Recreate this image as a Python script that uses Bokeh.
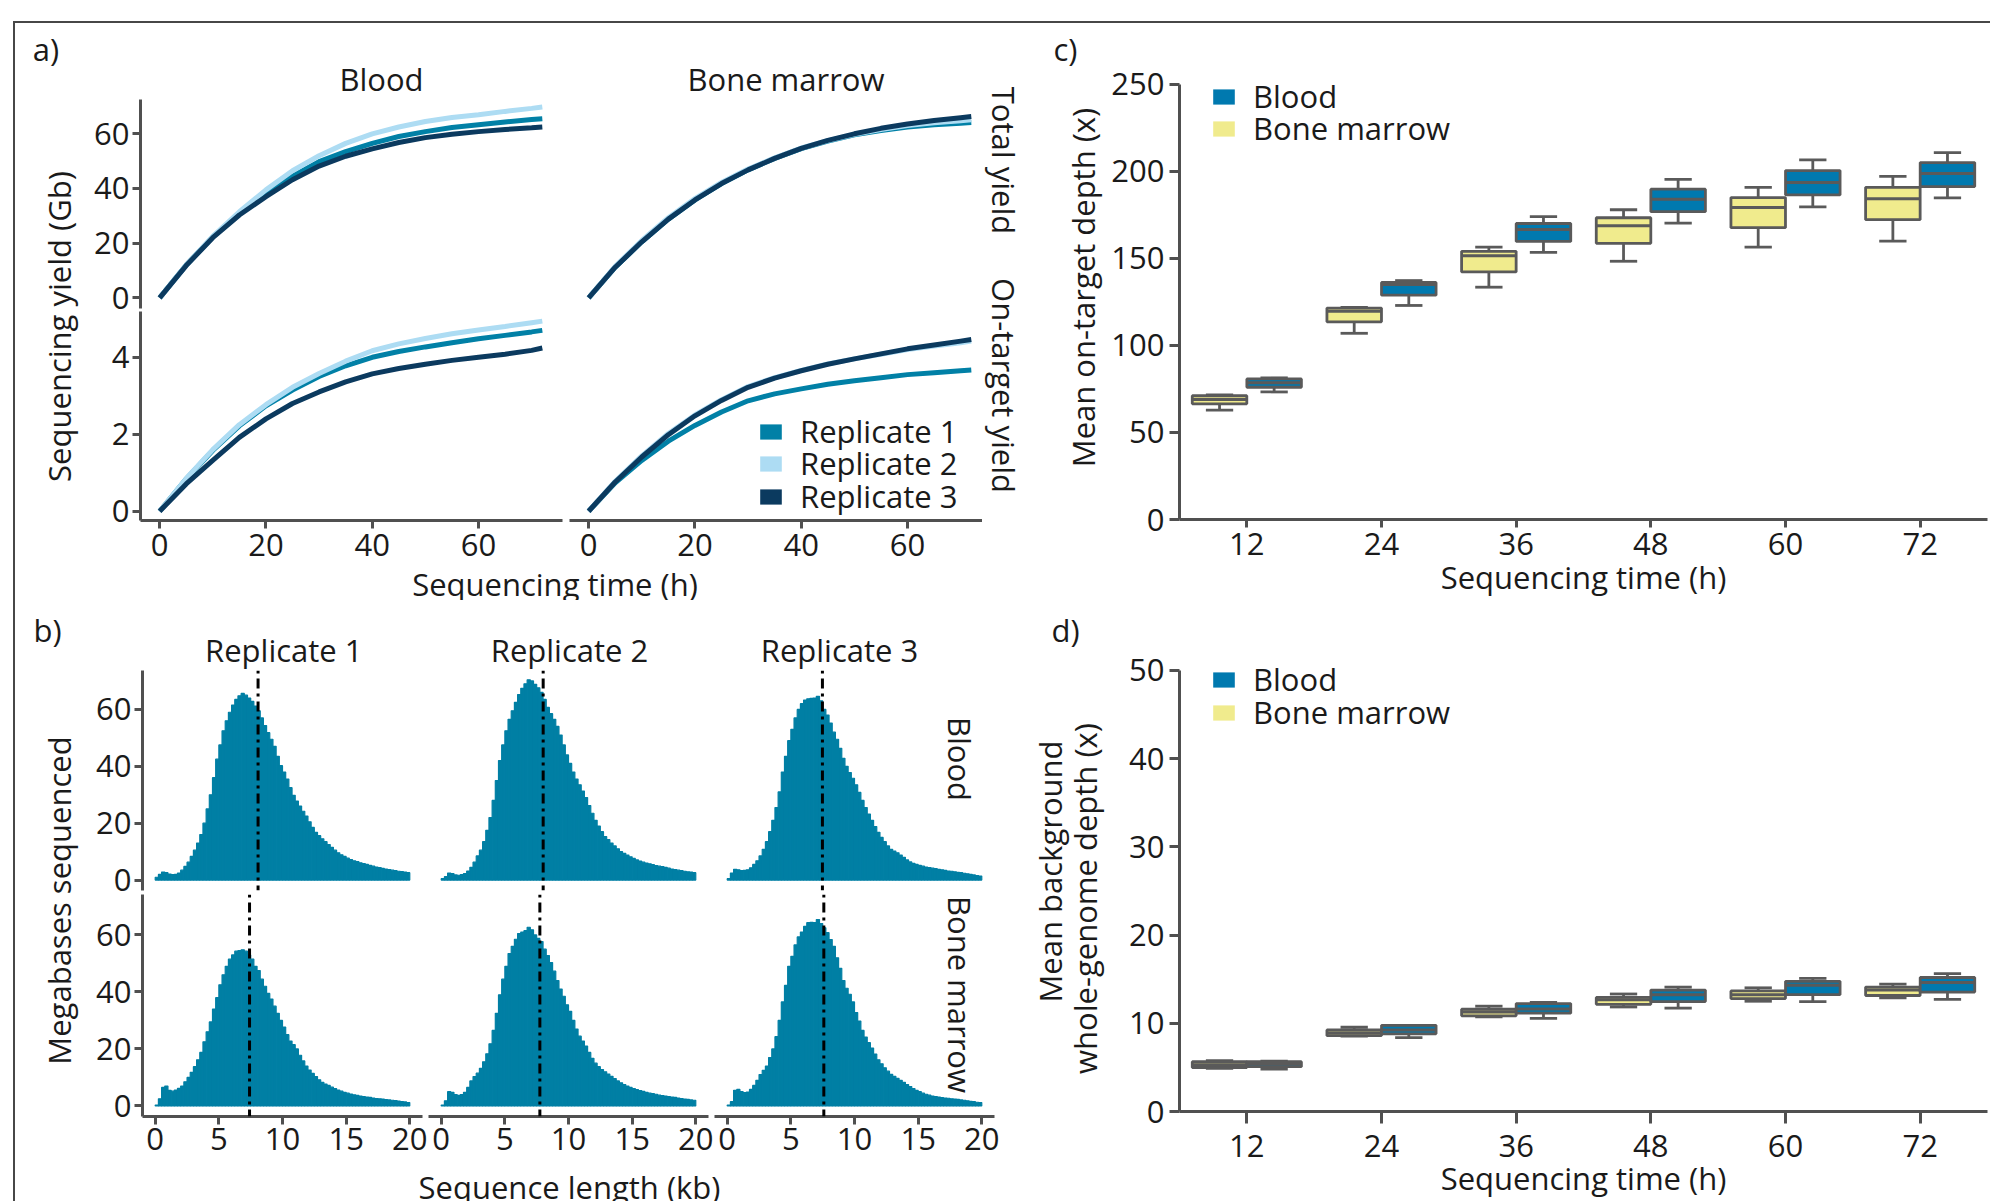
import math
from bokeh.plotting import figure
from bokeh.layouts import row, column
from bokeh.models import (Range1d, FactorRange, FixedTicker, Label, Span, Legend,
                          LegendItem, ColumnDataSource)
from bokeh.transform import dodge
from bokeh.embed import file_html
from bokeh.resources import INLINE

# ---------------------------------------------------------------- data
# a) cumulative yield vs sequencing time (h)
times_h = [0, 5, 10, 15, 20, 25, 30, 35, 40, 45, 50, 55, 60, 65, 70, 72]
blood_total_r1 = [0, 12, 22.3, 30.8, 38, 44.5, 49.8, 53.5, 56.5, 59, 60.8, 62.3, 63.3, 64.3, 65.2, 65.5]
blood_total_r2 = [0, 12, 22.5, 31.5, 39.5, 46.5, 52, 56.5, 60, 62.5, 64.5, 66, 67, 68.2, 69.3, 69.8]
blood_total_r3 = [0, 11.8, 22, 30.3, 37, 43.2, 48.2, 51.8, 54.5, 56.8, 58.6, 59.8, 60.8, 61.6, 62.2, 62.5]
bm_total_r1 = [0, 11.2, 20.5, 28.8, 35.8, 41.8, 46.8, 51, 54.6, 57.3, 59.6, 61.2, 62.5, 63.3, 63.9, 64.1]
bm_total_r2 = [0, 11.5, 21, 29.3, 36.3, 42.2, 47.1, 51.2, 54.8, 57.5, 59.8, 61.6, 63, 64, 64.8, 65.1]
bm_total_r3 = [0, 11.2, 20.5, 28.8, 35.8, 41.8, 46.8, 51, 54.7, 57.6, 60, 62, 63.6, 64.9, 65.9, 66.3]
blood_ot_r1 = [0, 0.84, 1.58, 2.22, 2.74, 3.15, 3.5, 3.78, 4.0, 4.15, 4.27, 4.38, 4.48, 4.57, 4.66, 4.7]
blood_ot_r2 = [0, 0.85, 1.6, 2.25, 2.77, 3.22, 3.58, 3.9, 4.17, 4.35, 4.49, 4.61, 4.71, 4.8, 4.9, 4.94]
blood_ot_r3 = [0, 0.71, 1.32, 1.92, 2.4, 2.8, 3.1, 3.36, 3.57, 3.71, 3.82, 3.92, 4.0, 4.08, 4.18, 4.24]
bm_ot_r1 = [0, 0.74, 1.32, 1.82, 2.23, 2.58, 2.87, 3.05, 3.18, 3.3, 3.39, 3.47, 3.55, 3.6, 3.65, 3.67]
bm_ot_r2 = [0, 0.78, 1.44, 2.02, 2.5, 2.9, 3.24, 3.47, 3.66, 3.83, 3.96, 4.08, 4.2, 4.29, 4.38, 4.42]
bm_ot_r3 = [0, 0.76, 1.41, 1.99, 2.48, 2.88, 3.22, 3.46, 3.65, 3.82, 3.96, 4.09, 4.22, 4.32, 4.42, 4.46]
replicates = ["Replicate 1", "Replicate 2", "Replicate 3"]

# b) read-length histograms (Megabases per 0.25 kb bin)
bin_width_kb = 0.25
bin_centers_kb = [0.125 + bin_width_kb * i for i in range(80)]
hist_blood_r1 = [1, 2, 2.8, 2.6, 2.1, 1.9, 2, 2.5,
                 3.5, 4.8, 6.3, 8.3, 10.5, 13, 16, 20,
                 25, 30, 36, 42.5, 47.5, 52.5, 56, 59,
                 61.5, 63.5, 64.8, 65.6, 65, 64, 62.8, 61.2,
                 59.5, 57, 54.3, 51.8, 49.5, 47, 43.5, 40.2,
                 38, 35.5, 32.5, 29.8, 27.8, 26, 24.2, 22.5,
                 20.5, 18.5, 16.8, 15.6, 14.5, 13.5, 12.5, 11.5,
                 10.5, 9.6, 8.9, 8.3, 7.7, 7.2, 6.8, 6.5,
                 6.1, 5.8, 5.5, 5.2, 4.9, 4.6, 4.4, 4.1,
                 3.9, 3.7, 3.5, 3.3, 3.1, 2.95, 2.8, 2.6]
hist_blood_r2 = [0.5, 1.2, 2.5, 2.3, 1.8, 1.7, 1.9, 2.3,
                 3.2, 4.5, 6.3, 8.5, 10.5, 13.5, 17.5, 22,
                 28, 35, 42, 47.5, 52.5, 56.5, 59.5, 62.5,
                 65.2, 67.4, 69, 70.4, 70, 68.8, 67.6, 66,
                 63.5, 60.7, 58.5, 56.5, 54, 51, 47.5, 44,
                 41, 38, 35.5, 33.5, 31.3, 29, 26.2, 23.5,
                 21, 19, 17, 15.3, 14.2, 13, 12, 11,
                 10, 9.4, 8.8, 8.2, 7.6, 7.1, 6.7, 6.3,
                 6, 5.7, 5.4, 5.1, 4.9, 4.7, 4.5, 4.2,
                 3.9, 3.7, 3.5, 3.3, 3.1, 2.9, 2.8, 2.6]
hist_blood_r3 = [0.5, 2.5, 3.8, 3.6, 3.3, 3.4, 3.6, 4.3,
                 5.5, 6.8, 8.5, 10.8, 13.5, 17, 21, 25.5,
                 31, 38, 43.5, 49, 53, 57, 60, 62,
                 63.3, 63.7, 63.9, 64, 64.6, 63, 60, 58,
                 55.2, 52, 49.5, 46.3, 42.8, 40, 37.8, 35.8,
                 33.5, 30.8, 28, 25.5, 23.2, 21, 18.8, 16.8,
                 15, 13.5, 12, 10.8, 10.2, 9.6, 8.8, 8,
                 7.1, 6.4, 5.9, 5.5, 5.2, 4.9, 4.6, 4.4,
                 4.2, 4, 3.8, 3.6, 3.4, 3.2, 3.1, 2.9,
                 2.7, 2.6, 2.4, 2.2, 2, 1.8, 1.6, 1.4]
hist_bm_r1 = [0.3, 2.5, 6.5, 7, 5.5, 5.2, 5.6, 6.2,
              7, 8.5, 10, 11.8, 13.8, 16.2, 18.8, 22.5,
              26, 29.5, 34, 38, 42.5, 46, 49, 51.5,
              53, 54.3, 54.5, 54.8, 54.3, 53, 51.5, 49,
              47.5, 44.5, 42, 39.5, 37.5, 35, 32.5, 30,
              27.7, 25, 22.8, 21.5, 20, 17.8, 15.8, 14,
              12.6, 11.4, 10.3, 9.2, 8.3, 7.7, 7.2, 6.6,
              6.1, 5.6, 5.2, 4.8, 4.5, 4.2, 3.9, 3.7,
              3.5, 3.3, 3.1, 3, 2.8, 2.6, 2.5, 2.4,
              2.2, 2.1, 2, 1.9, 1.7, 1.5, 1.4, 1.2]
hist_bm_r2 = [0.3, 1.8, 5, 4.8, 4, 3.7, 4, 4.8,
              6.5, 8.8, 10.3, 11.5, 13.2, 15.5, 18.3, 21.8,
              26.5, 32.5, 39, 44.5, 49, 53.5, 56, 58.5,
              60.5, 61, 61.5, 62.7, 61.8, 60, 58.8, 57.7,
              55, 52.8, 50.3, 47.3, 44, 41, 38.5, 35.5,
              33.2, 30, 27, 24.5, 22.8, 21, 18.8, 16.7,
              15, 13.8, 12.8, 12, 11.2, 10.4, 9.6, 8.8,
              8.1, 7.5, 7, 6.5, 6.1, 5.7, 5.4, 5.1,
              4.8, 4.5, 4.3, 4.1, 3.8, 3.6, 3.5, 3.3,
              3.1, 3, 2.8, 2.6, 2.4, 2.3, 2.1, 2]
hist_bm_r3 = [0.3, 1.5, 5.5, 5.8, 5, 4.7, 4.9, 5.8,
              7.2, 9, 11, 12.5, 14, 17, 20, 24.3,
              30, 36.5, 42.3, 49, 52.5, 56.5, 59.3, 61,
              63, 64.3, 64.4, 64.3, 65.4, 64, 62.5, 60.8,
              58.4, 56, 52, 48.3, 44, 41.3, 39.2, 36.5,
              32.8, 29.8, 26.5, 24.2, 22.2, 20.3, 18.2, 16.2,
              14.8, 13.4, 12.2, 11.1, 10.4, 9.7, 9, 8.3,
              7.5, 6.8, 6.1, 5.5, 5, 4.5, 4.1, 3.8,
              3.5, 3.3, 3.1, 2.9, 2.8, 2.7, 2.5, 2.4,
              2.3, 2.1, 2, 1.8, 1.6, 1.5, 1.3, 1.2]
median_len_blood_kb = [8.08, 8.01, 7.48]
median_len_bm_kb = [7.41, 7.75, 7.59]

# c) / d) box plots per sequencing time
time_labels = ["12", "24", "36", "48", "60", "72"]
c_bm_lower = [62.8, 107, 133.5, 148.4, 156.5, 160]
c_bm_q1 = [66.5, 113.6, 142.3, 158.7, 167.7, 172.3]
c_bm_median = [69, 119.7, 151.5, 168.8, 179.3, 184.3]
c_bm_q3 = [71.1, 121.5, 154.1, 173.4, 185, 190.9]
c_bm_upper = [71.6, 121.9, 156.5, 178, 190.9, 197.2]
c_blood_lower = [73.3, 123, 153.5, 170.3, 179.7, 184.8]
c_blood_q1 = [76, 128.9, 159.8, 176.9, 186.5, 191.3]
c_blood_median = [78.6, 135.1, 166.6, 184.1, 193.7, 198.8]
c_blood_q3 = [80.8, 136.2, 170.1, 189.8, 200.5, 205.1]
c_blood_upper = [81.4, 137.3, 174, 195.5, 206.7, 210.8]

d_bm_lower = [4.9, 8.55, 10.72, 11.85, 12.5, 12.89]
d_bm_q1 = [4.99, 8.6, 10.85, 12.15, 12.8, 13.15]
d_bm_median = [5.3, 8.9, 11.28, 12.67, 13.24, 13.76]
d_bm_q3 = [5.64, 9.24, 11.59, 12.93, 13.67, 14.1]
d_bm_upper = [5.77, 9.55, 11.94, 13.32, 14.02, 14.45]
d_blood_lower = [4.82, 8.38, 10.55, 11.72, 12.46, 12.72]
d_blood_q1 = [5.08, 8.81, 11.15, 12.46, 13.24, 13.54]
d_blood_median = [5.38, 9.24, 11.63, 13.24, 14.32, 14.63]
d_blood_q3 = [5.64, 9.77, 12.24, 13.76, 14.76, 15.19]
d_blood_upper = [5.7, 9.77, 12.37, 14.1, 15.1, 15.63]

# ---------------------------------------------------------------- style
FONT = "Open Sans"
FS = "31px"
TXT = "#1a1a1a"
AXC = "#505050"
REP_COLORS = ["#0180A6", "#ADDCF3", "#0B3A5F"]
HIST_C = "#007FA4"
BLOOD_C = "#0079AF"
BM_C = "#F0EB8D"
BOX_LINE = "#5a5a5a"


def to_data(g, sx, sy):
    fx, fy, mbl, mbt, fw, fh, x0, x1, y0, y1 = g
    return (x0 + (sx - fx - mbl) / fw * (x1 - x0),
            y1 - (sy - fy - mbt) / fh * (y1 - y0))


def add_text(p, g, sx, sy, text, angle=0.0):
    x, y = to_data(g, sx, sy)
    p.add_layout(Label(x=x, y=y, text=text, angle=angle, text_align="center",
                       text_baseline="middle", text_font=FONT, text_font_size=FS,
                       text_color=TXT))


def make_fig(W, H, mbl, mbr, mbt, mbb, xr, yr, xaxis, yaxis):
    p = figure(width=W, height=H, x_range=xr, y_range=yr,
               x_axis_location="below" if xaxis else None,
               y_axis_location="left" if yaxis else None,
               toolbar_location=None, output_backend="svg",
               min_border_left=mbl, min_border_right=mbr,
               min_border_top=mbt, min_border_bottom=mbb,
               outline_line_color=None, background_fill_color="white",
               border_fill_color="white")
    p.grid.visible = False
    return p


def style_axis(ax, tick_out, standoff, ticks=None):
    ax.axis_line_color = AXC
    ax.axis_line_width = 3
    ax.major_tick_line_color = AXC
    ax.major_tick_line_width = 3
    ax.major_tick_out = tick_out
    ax.major_tick_in = 0
    ax.minor_tick_line_color = None
    ax.major_label_text_font = FONT
    ax.major_label_text_font_size = FS
    ax.major_label_text_color = TXT
    ax.major_label_standoff = standoff
    ax.axis_label_text_font = FONT
    ax.axis_label_text_font_size = FS
    ax.axis_label_text_color = TXT
    ax.axis_label_text_font_style = "normal"
    if ticks is not None:
        ax.ticker = FixedTicker(ticks=ticks)


def blank(W, H, fx, fy, mbt=0, mbb=0):
    fh = H - mbt - mbb
    p = figure(width=W, height=H, x_range=Range1d(0, W), y_range=Range1d(0, fh),
               x_axis_location=None, y_axis_location=None, toolbar_location=None,
               output_backend="svg", min_border_left=0, min_border_right=0,
               min_border_top=mbt, min_border_bottom=mbb, outline_line_color=None)
    p.grid.visible = False
    return p, (fx, fy, 0, mbt, W, fh, 0, W, 0, fh)


def single_legend(p, label, renderer, x, y):
    p.add_layout(Legend(items=[LegendItem(label=label, renderers=[renderer])],
                        location=(x, y), glyph_width=27, glyph_height=19, label_height=19,
                        label_standoff=16, spacing=0, padding=0, margin=0,
                        border_line_color=None, background_fill_alpha=0,
                        label_text_font=FONT, label_text_font_size=FS,
                        label_text_color=TXT))


NAN = float("nan")

# ---------------------------------------------------------------- panel a
A_XR_L = (-3.6, 75.8)
A_XR_R = (-3.6, 74.11)
A_YT = (-3.9, 72.55)
A_YB = (-0.24, 5.19)

ytitle_a, g = blank(65, 577, 15, 23)
add_text(ytitle_a, g, 45.5, 48, "a)")
add_text(ytitle_a, g, 58.5, 326, "Sequencing yield (Gb)", math.pi / 2)

strip_top_a, g = blank(902, 76, 80, 23)
add_text(strip_top_a, g, 381, 78, "Blood")
add_text(strip_top_a, g, 785.5, 78, "Bone marrow")

TL = make_fig(485, 211, 60, 3, 0, 2, Range1d(*A_XR_L), Range1d(*A_YT), False, True)
TR = make_fig(417, 211, 4, 0, 0, 2, Range1d(*A_XR_R), Range1d(*A_YT), False, False)
BL = make_fig(485, 259, 60, 3, 1, 49, Range1d(*A_XR_L), Range1d(*A_YB), True, True)
BR = make_fig(417, 259, 4, 0, 1, 49, Range1d(*A_XR_R), Range1d(*A_YB), True, False)
style_axis(TL.yaxis[0], 8, 3, [0, 20, 40, 60])
style_axis(BL.yaxis[0], 8, 3, [0, 2, 4])
for f in (BL, BR):
    style_axis(f.xaxis[0], 8, 5, [0, 20, 40, 60])

for fig_, series in ((TL, (blood_total_r1, blood_total_r2, blood_total_r3)),
                     (TR, (bm_total_r1, bm_total_r2, bm_total_r3)),
                     (BL, (blood_ot_r1, blood_ot_r2, blood_ot_r3)),
                     (BR, (bm_ot_r1, bm_ot_r2, bm_ot_r3))):
    for ys, col in zip(series, REP_COLORS):
        fig_.line(times_h, ys, line_color=col, line_width=5)

# legend swatches (filled squares, as in the original key)
for name, col, ly in zip(replicates, REP_COLORS, (68, 36, 3)):
    sw = BR.quad(left=[NAN], right=[NAN], top=[NAN], bottom=[NAN],
                 fill_color=col, line_color=None)
    single_legend(BR, name, sw, 188, ly)

stripA, g = blank(42, 546, 982, 23)
add_text(stripA, g, 1003, 160, "Total yield", -math.pi / 2)
add_text(stripA, g, 1003, 385, "On-target yield", -math.pi / 2)

xtitle_a, g = blank(944, 31, 80, 569)
add_text(xtitle_a, g, 554.5, 583.5, "Sequencing time (h)")

grid_a = row(column(strip_top_a, row(TL, TR), row(BL, BR)), stripA)
panel_a = row(ytitle_a, column(grid_a, xtitle_a))

# ---------------------------------------------------------------- panel b
B_XR = (-1, 21)
B_YR_T = (-3.66, 73.67)
B_YR_B = (-3.7, 74.2)
ytitle_b, g = blank(65, 601, 15, 600)
add_text(ytitle_b, g, 47, 629, "b)")
add_text(ytitle_b, g, 58.5, 900, "Megabases sequenced", math.pi / 2)

strip_top_b, g = blank(944, 70, 80, 600)
for sx, txt in [(283.3, "Replicate 1"), (569, "Replicate 2"), (839, "Replicate 3")]:
    add_text(strip_top_b, g, sx, 649, txt)

col_specs = [(347, 62, 5, 80), (286, 1, 5, 427), (311, 1, 30, 713)]
hist_rows = [(hist_blood_r1, hist_blood_r2, hist_blood_r3),
             (hist_bm_r1, hist_bm_r2, hist_bm_r3)]
median_rows = [median_len_blood_kb, median_len_bm_kb]
b_rows = []
b_geo = {}
for ri in range(2):
    figs = []
    for ci, (W, mbl, mbr, fx) in enumerate(col_specs):
        if ri == 0:
            f = make_fig(W, 222, mbl, mbr, 0, 2, Range1d(*B_XR), Range1d(*B_YR_T), False, ci == 0)
            geo = (fx, 670, mbl, 0, 280, 220) + B_XR + B_YR_T
        else:
            f = make_fig(W, 273, mbl, mbr, 2, 49, Range1d(*B_XR), Range1d(*B_YR_B), True, ci == 0)
            style_axis(f.xaxis[0], 8, 3, [0, 5, 10, 15, 20])
            geo = (fx, 892, mbl, 2, 280, 222) + B_XR + B_YR_B
        if ci == 0:
            style_axis(f.yaxis[0], 8, 3, [0, 20, 40, 60])
        src = ColumnDataSource(dict(x=bin_centers_kb, y=hist_rows[ri][ci]))
        f.vbar(x="x", top="y", bottom=0, width=bin_width_kb, source=src,
               fill_color=HIST_C, line_color=HIST_C, line_width=1.2)
        f.add_layout(Span(location=median_rows[ri][ci], dimension="height",
                          line_color="black", line_width=3, line_dash="3 5 10 5"))
        figs.append(f)
        b_geo[(ri, ci)] = (f, geo)
    b_rows.append(row(*figs))

f, g = b_geo[(0, 2)]
add_text(f, g, 959.6, 758.5, "Blood", -math.pi / 2)
f, g = b_geo[(1, 2)]
add_text(f, g, 959.6, 994, "Bone marrow", -math.pi / 2)

xtitle_b, g = blank(944, 36, 80, 1165)
add_text(xtitle_b, g, 569, 1186, "Sequence length (kb)")

panel_b = row(ytitle_b, column(strip_top_b, b_rows[0], b_rows[1], xtitle_b))

# ---------------------------------------------------------------- panels c, d
BW = 0.405
OFF = 0.2027
CAP = 0.2027


def box_panel(H, mbt, mbb, ymax, ytop, yticks, data, tick_x, stand_x, lab_x_standoff,
              legend_ys):
    p = make_fig(882, H, 71, 3, mbt, mbb, FactorRange(factors=time_labels, range_padding=0),
                 Range1d(0, ytop), True, True)
    style_axis(p.yaxis[0], 10, 5, yticks)
    p.yaxis[0].bounds = (0, ymax)
    style_axis(p.xaxis[0], tick_x, stand_x)
    p.xaxis[0].axis_label = "Sequencing time (h)"
    p.xaxis[0].axis_label_standoff = lab_x_standoff
    src = ColumnDataSource(dict(time=time_labels, **data))
    fills = {}
    for prefix, off, col in (("bm", -OFF, BM_C), ("blood", OFF, BLOOD_C)):
        xc = dodge("time", off, range=p.x_range)
        xl = dodge("time", off - BW / 2, range=p.x_range)
        xr = dodge("time", off + BW / 2, range=p.x_range)
        cl = dodge("time", off - CAP / 2, range=p.x_range)
        cr = dodge("time", off + CAP / 2, range=p.x_range)
        for y0, y1 in ((prefix + "_q3", prefix + "_upper"), (prefix + "_lower", prefix + "_q1")):
            p.segment(x0=xc, x1=xc, y0=y0, y1=y1, source=src, line_color=BOX_LINE, line_width=2.8)
        for yy in (prefix + "_upper", prefix + "_lower"):
            p.segment(x0=cl, x1=cr, y0=yy, y1=yy, source=src, line_color=BOX_LINE, line_width=2.8)
        fills[prefix] = p.vbar(x=xc, width=BW, bottom=prefix + "_q1", top=prefix + "_q3",
                               source=src, fill_color=col, line_color=None)
        p.vbar(x=xc, width=BW, bottom=prefix + "_q1", top=prefix + "_q3", source=src,
               fill_color=None, line_color=BOX_LINE, line_width=2.8)
        p.segment(x0=xl, x1=xr, y0=prefix + "_median", y1=prefix + "_median", source=src,
                  line_color=BOX_LINE, line_width=3)
    single_legend(p, "Blood", fills["blood"], 31, legend_ys[0])
    single_legend(p, "Bone marrow", fills["bm"], 31, legend_ys[1])
    return p


c_data = dict(bm_lower=c_bm_lower, bm_q1=c_bm_q1, bm_median=c_bm_median, bm_q3=c_bm_q3,
              bm_upper=c_bm_upper, blood_lower=c_blood_lower, blood_q1=c_blood_q1,
              blood_median=c_blood_median, blood_q3=c_blood_q3, blood_upper=c_blood_upper)
d_data = dict(bm_lower=d_bm_lower, bm_q1=d_bm_q1, bm_median=d_bm_median, bm_q3=d_bm_q3,
              bm_upper=d_bm_upper, blood_lower=d_blood_lower, blood_q1=d_blood_q1,
              blood_median=d_blood_median, blood_q3=d_blood_q3, blood_upper=d_blood_upper)

# panel c: [letter + y title] column beside the plot
ytitle_c, g = blank(84, 577, 1024, 23)
add_text(ytitle_c, g, 1065, 48.5, "c)")
add_text(ytitle_c, g, 1082, 287, "Mean on-target depth (x)", math.pi / 2)
c_fig = box_panel(577, 54, 79, 250, 254.0, [0, 50, 100, 150, 200, 250],
                  c_data, 8, 5, -2, (402, 370))

ytitle_d, g = blank(84, 601, 1024, 600)
add_text(ytitle_d, g, 1065, 629, "d)")
add_text(ytitle_d, g, 1049, 871, "Mean background", math.pi / 2)
add_text(ytitle_d, g, 1084, 894, "whole-genome  depth (x)", math.pi / 2)
d_fig = box_panel(601, 59, 88, 50, 51.24, [0, 10, 20, 30, 40, 50],
                  d_data, 12, 11, -3, (411, 378))

left_col = column(panel_a, panel_b)
right_col = column(row(column(ytitle_c), c_fig), row(column(ytitle_d), d_fig))
root = row(left_col, right_col, margin=(21, 0, 0, 13),
           styles={"border-top": "2px solid #474747", "border-left": "2px solid #474747"})

open("out.html", "w").write(file_html(root, INLINE))
